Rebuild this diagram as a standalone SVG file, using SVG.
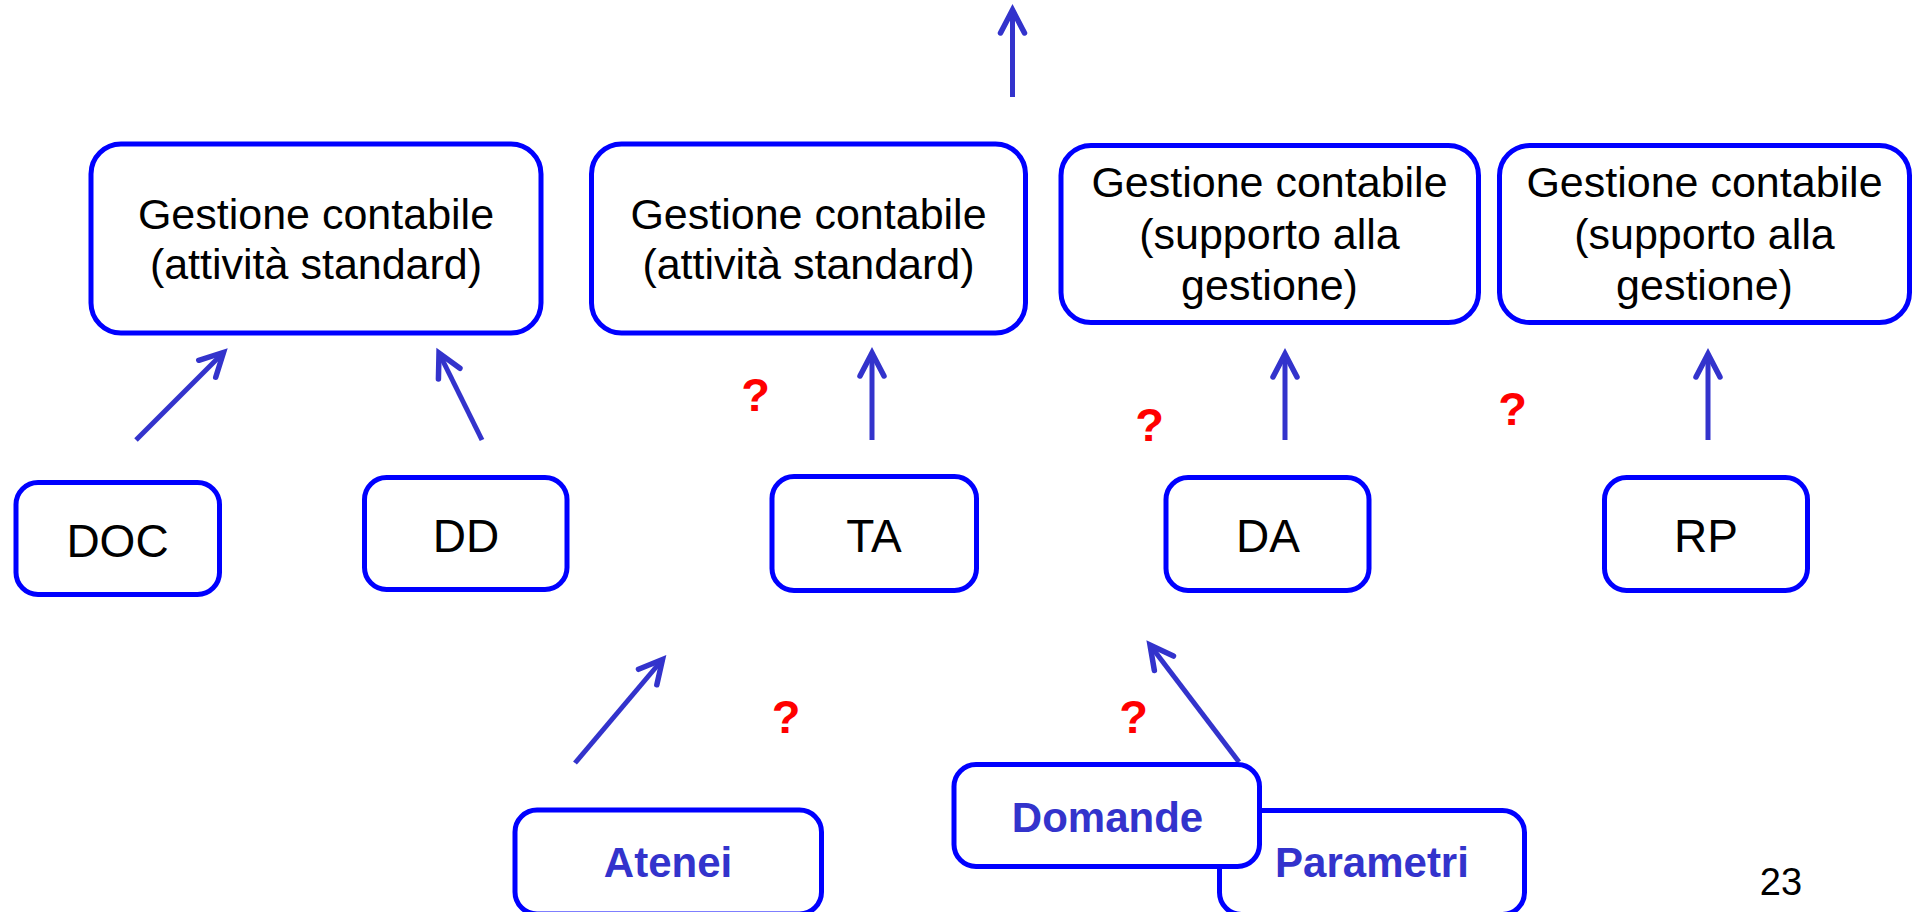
<svg xmlns="http://www.w3.org/2000/svg" width="1917" height="912" viewBox="0 0 1917 912">
<style>
.box{fill:#FFFFFF;stroke:#0000FF;stroke-width:5}
.t{font-family:"Liberation Sans",Arial,sans-serif;fill:#000000;text-anchor:middle}
.big{font-size:43px}
.sm{font-size:46px}
.bl{font-family:"Liberation Sans",Arial,sans-serif;font-weight:bold;font-size:42px;fill:#3333CC;text-anchor:middle}
.q{font-family:"Liberation Sans",Arial,sans-serif;font-weight:bold;font-size:47px;fill:#FF0000;text-anchor:middle}
.c{stroke:#3333CC;stroke-width:5;fill:none;marker-end:url(#ah)}
</style>
<defs>
<marker id="ah" markerUnits="userSpaceOnUse" viewBox="-30 -16 36 32" refX="0" refY="0" markerWidth="36" markerHeight="32" orient="auto" overflow="visible">
<path d="M-23,-12 L0,0 L-23,12" fill="none" stroke="#3333CC" stroke-width="5.5" stroke-linecap="round" stroke-linejoin="miter"/>
</marker>
</defs>
<rect width="1917" height="912" fill="#FFFFFF"/>
<g id="connectors">
<line class="c" x1="1012.5" y1="97" x2="1012.5" y2="10"/>
<line class="c" x1="136" y1="440" x2="223.5" y2="352.5"/>
<line class="c" x1="482" y1="440" x2="439" y2="353"/>
<line class="c" x1="872" y1="440" x2="872" y2="353"/>
<line class="c" x1="1285" y1="440" x2="1285" y2="354"/>
<line class="c" x1="1708" y1="440" x2="1708" y2="354"/>
<line class="c" x1="575" y1="763" x2="662.5" y2="659.5"/>
<line class="c" x1="1239" y1="762" x2="1150" y2="645"/>
</g>
<g id="box1">
<rect class="box" x="91" y="144" width="450" height="189" rx="30"/>
<text class="t big" x="316" y="229">Gestione contabile</text>
<text class="t big" x="316" y="279">(attività standard)</text>
</g>
<g id="box2">
<rect class="box" x="591.5" y="144" width="434" height="189" rx="30"/>
<text class="t big" x="808.5" y="229">Gestione contabile</text>
<text class="t big" x="808.5" y="279">(attività standard)</text>
</g>
<g id="box3">
<rect class="box" x="1061" y="145.5" width="417.5" height="177" rx="30"/>
<text class="t big" x="1269.5" y="197">Gestione contabile</text>
<text class="t big" x="1269.5" y="249">(supporto alla</text>
<text class="t big" x="1269.5" y="300">gestione)</text>
</g>
<g id="box4">
<rect class="box" x="1499.5" y="145.5" width="410" height="177" rx="30"/>
<text class="t big" x="1704.5" y="197">Gestione contabile</text>
<text class="t big" x="1704.5" y="249">(supporto alla</text>
<text class="t big" x="1704.5" y="300">gestione)</text>
</g>
<g id="doc">
<rect class="box" x="16" y="482.5" width="203.5" height="112" rx="22"/>
<text class="t sm" x="117.5" y="557">DOC</text>
</g>
<g id="dd">
<rect class="box" x="364.5" y="477.5" width="202.5" height="112" rx="22"/>
<text class="t sm" x="466" y="552">DD</text>
</g>
<g id="ta">
<rect class="box" x="772" y="476.5" width="204.5" height="114" rx="22"/>
<text class="t sm" x="874" y="552">TA</text>
</g>
<g id="da">
<rect class="box" x="1166" y="477.5" width="203" height="113" rx="22"/>
<text class="t sm" x="1268" y="552">DA</text>
</g>
<g id="rp">
<rect class="box" x="1604.5" y="477.5" width="203" height="113" rx="22"/>
<text class="t sm" x="1706" y="552">RP</text>
</g>
<g id="atenei">
<rect class="box" x="515" y="810" width="306.5" height="104" rx="22"/>
<text class="bl" x="668" y="877">Atenei</text>
</g>
<g id="parametri">
<rect class="box" x="1219.5" y="810.5" width="305" height="104" rx="22"/>
<text class="bl" x="1372" y="877">Parametri</text>
</g>
<g id="domande">
<rect class="box" x="954" y="764.5" width="305.5" height="102" rx="22"/>
<text class="bl" x="1107.5" y="832">Domande</text>
</g>
<g id="questions">
<text class="q" x="755.5" y="411">?</text>
<text class="q" x="1149.5" y="441">?</text>
<text class="q" x="1512.5" y="425">?</text>
<text class="q" x="786" y="733">?</text>
<text class="q" x="1133.5" y="733">?</text>
</g>
<text id="pagenum" x="1781" y="895" font-family="'Liberation Sans',Arial,sans-serif" font-size="38" fill="#000000" text-anchor="middle">23</text>
</svg>
